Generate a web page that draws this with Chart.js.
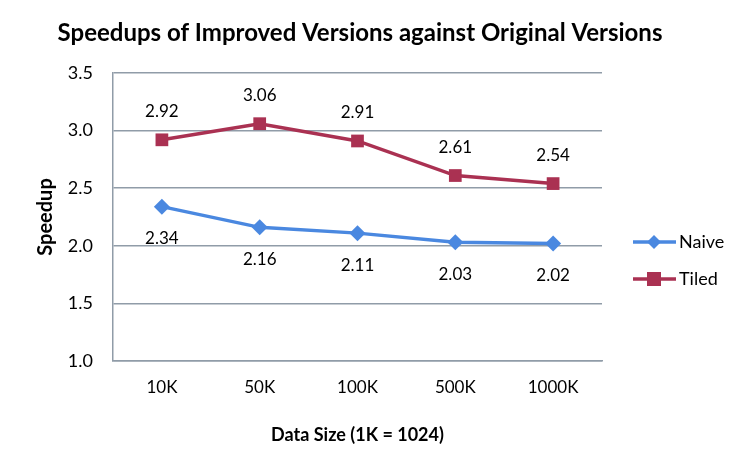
<!DOCTYPE html>
<html>
<head>
<meta charset="utf-8">
<script src="https://cdn.jsdelivr.net/npm/chart.js@4.4.0/dist/chart.umd.min.js"></script>
<style>
  html, body { margin: 0; padding: 0; background: #fff; }
  #wrap { width: 747px; height: 472px; }
</style>
</head>
<body>
<div id="wrap"><canvas id="speedupChart"></canvas></div>
<script>
// data
const sizes = ['10K', '50K', '100K', '500K', '1000K'];
const naive = [2.34, 2.16, 2.11, 2.03, 2.02];
const tiled = [2.92, 3.06, 2.91, 2.61, 2.54];
const yTicks = [1.0, 1.5, 2.0, 2.5, 3.0, 3.5];
const chartTitle = 'Speedups of Improved Versions against Original Versions';

const FONT = 'Lato, "Open Sans", sans-serif';
const BLUE = '#4a88e0';
const RED = '#aa3152';
const GRID = '#909ca8';

// title drawn by hand so it sits over the whole figure, not just the plot
const topTitle = {
  id: 'topTitle',
  afterDraw(chart) {
    const ctx = chart.ctx;
    ctx.save();
    ctx.font = 'bold 24px ' + FONT;
    ctx.fillStyle = '#000';
    ctx.textAlign = 'center';
    ctx.textBaseline = 'middle';
    ctx.fillText(chartTitle, 360, 33);
    ctx.restore();
  }
};

// value labels, above for Tiled and below for Naive
const valueLabels = {
  id: 'valueLabels',
  afterDatasetsDraw(chart) {
    const ctx = chart.ctx;
    ctx.save();
    ctx.font = '17px ' + FONT;
    ctx.fillStyle = '#000';
    ctx.textAlign = 'center';
    ctx.textBaseline = 'middle';
    chart.data.datasets.forEach((ds, i) => {
      const meta = chart.getDatasetMeta(i);
      meta.data.forEach((pt, j) => {
        const dy = ds.label === 'Tiled' ? -28 : 32;
        ctx.fillText(ds.data[j].toFixed(2), pt.x, pt.y + dy);
      });
    });
    ctx.restore();
  }
};

// legend on the right with line + marker
const sideLegend = {
  id: 'sideLegend',
  afterDraw(chart) {
    const ctx = chart.ctx;
    ctx.save();
    chart.data.datasets.forEach((ds, i) => {
      const y = 242 + i * 37;
      ctx.strokeStyle = ds.borderColor;
      ctx.lineWidth = 3.5;
      ctx.beginPath();
      ctx.moveTo(633, y);
      ctx.lineTo(676, y);
      ctx.stroke();
      ctx.fillStyle = ds.borderColor;
      if (ds.pointStyle === 'rectRot') {
        ctx.beginPath();
        ctx.moveTo(654, y - 7);
        ctx.lineTo(661, y);
        ctx.lineTo(654, y + 7);
        ctx.lineTo(647, y);
        ctx.closePath();
        ctx.fill();
      } else {
        ctx.fillRect(647, y - 7, 14, 14);
      }
      ctx.fillStyle = '#000';
      ctx.font = '18px ' + FONT;
      ctx.textAlign = 'left';
      ctx.textBaseline = 'middle';
      ctx.fillText(ds.label, 679, y);
    });
    ctx.restore();
  }
};

new Chart(document.getElementById('speedupChart'), {
  type: 'line',
  data: {
    labels: sizes,
    datasets: [{
      label: 'Naive',
      data: naive,
      borderColor: BLUE,
      backgroundColor: BLUE,
      borderWidth: 3.5,
      pointStyle: 'rectRot',
      pointRadius: 8,
      pointBorderWidth: 0,
    }, {
      label: 'Tiled',
      data: tiled,
      borderColor: RED,
      backgroundColor: RED,
      borderWidth: 3.5,
      pointStyle: 'rect',
      pointRadius: 9,
      pointBorderWidth: 0,
    }],
  },
  options: {
    responsive: true,
    maintainAspectRatio: false,
    animation: false,
    layout: { padding: { left: 30, right: 145, top: 73, bottom: 22 } },
    plugins: {
      legend: { display: false },
      tooltip: { enabled: false },
      title: { display: false },
    },
    scales: {
      x: {
        offset: true,
        grid: { display: false, drawTicks: false },
        border: { color: GRID, width: 1.5 },
        ticks: { color: '#000', font: { family: FONT, size: 17 }, padding: 16 },
        title: {
          display: true,
          text: 'Data Size (1K = 1024)',
          color: '#000',
          font: { family: FONT, size: 18, weight: 'bold' },
          padding: { top: 11 },
        },
      },
      y: {
        min: 1.0,
        max: 3.5,
        afterBuildTicks(scale) {
          scale.ticks = yTicks.map(v => ({ value: v }));
        },
        afterFit(scale) {
          scale.width = 83;
        },
        grid: { color: GRID, lineWidth: 1.5, drawTicks: false },
        border: { color: GRID, width: 1.5 },
        ticks: {
          color: '#000',
          font: { family: FONT, size: 18 },
          padding: 20,
          callback: v => Number(v).toFixed(1),
        },
        title: {
          display: true,
          text: 'Speedup',
          color: '#000',
          font: { family: FONT, size: 20, weight: 'bold' },
          padding: { bottom: 0 },
        },
      },
    },
  },
  plugins: [topTitle, valueLabels, sideLegend],
});
</script>
</body>
</html>
